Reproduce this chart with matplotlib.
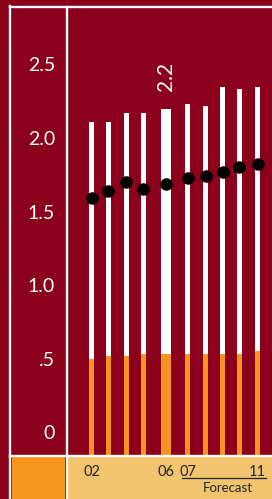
import matplotlib.pyplot as plt
from matplotlib.lines import Line2D
from matplotlib.patches import Rectangle

# data
years = ["02", "03", "04", "05", "06", "07", "08", "09", "10", "11"]
tick_labels = ["02", "", "", "", "06", "07", "", "", "", "11"]
total = [2.11, 2.11, 2.17, 2.17, 2.20, 2.23, 2.22, 2.35, 2.33, 2.35]
base = [0.50, 0.52, 0.52, 0.53, 0.53, 0.53, 0.53, 0.53, 0.53, 0.55]
dots = [1.59, 1.64, 1.70, 1.65, 1.69, 1.73, 1.74, 1.77, 1.80, 1.82]
highlight = 4
highlight_label = "2.2"

# layout
xpos = [0, 0.98, 2.02, 3.0, 4.3, 5.55, 6.6, 7.57, 8.55, 9.6]
widths = [0.58 if i == highlight else 0.29 for i in range(len(years))]

RED = "#8B001A"
ORANGE = "#F7941D"
LIGHT = "#F2C46D"
FONT = "Lato"

W, H = 272, 499
fig = plt.figure(figsize=(W / 100, H / 100), dpi=100, facecolor=RED)

def fx(px):
    return px / W

def fy(py):
    return 1 - py / H

ymin, ymax = -0.156, 2.884
ax = fig.add_axes([fx(67), fy(455), fx(W - 67), (455 - 8) / H], facecolor=RED)
ax.bar(xpos, [t - ymin for t in total], width=widths, bottom=ymin, color="white", zorder=2)
ax.bar(xpos, [b - ymin for b in base], width=widths, bottom=ymin, color=ORANGE, zorder=3)
ax.scatter(xpos, dots, s=64, color="black", zorder=4)
ax.text(xpos[highlight], 2.42, highlight_label, rotation=90, ha="center", va="center",
        color="white", fontsize=15, family=FONT)
ax.set_xlim(-1.416, 10.43)
ax.set_ylim(ymin, ymax)
ax.set_yticks([0, 0.5, 1.0, 1.5, 2.0, 2.5])
ax.set_yticklabels(["0", ".5", "1.0", "1.5", "2.0", "2.5"], color="white",
                   fontsize=14, family=FONT)
ax.tick_params(axis="y", length=0, pad=8.6)
ax.set_xticks([])
for s in ax.spines.values():
    s.set_visible(False)

# bottom strip
bx = fig.add_axes([fx(68), 0, fx(W - 68), (H - 457) / H], facecolor=LIGHT)
bx.set_xlim(-1.416 + 1 / 17.3, 10.43)
bx.set_ylim(0, 42)
for x, lab in zip(xpos, tick_labels):
    if lab:
        bx.text(x, 27, lab, ha="center", va="center", fontsize=10.5, family=FONT, color="#222222")
bx.plot([5.21, 10.07], [21, 21], color="#222222", lw=0.9)
bx.text(7.9, 11, "Forecast", ha="center", va="center", fontsize=9.5, family=FONT, color="#222222")
bx.axis("off")
bx.add_patch(Rectangle((0, 0), 1, 1, transform=bx.transAxes, color=LIGHT, zorder=0))

fig.add_artist(Rectangle((fx(12), 0), fx(53), (H - 457) / H, color=ORANGE, lw=0))

# white frame lines
lw = 1.7
fig.add_artist(Line2D([fx(10), fx(10)], [0, fy(6)], color="white", lw=lw))
fig.add_artist(Line2D([fx(10), 1], [fy(7), fy(7)], color="white", lw=lw))
fig.add_artist(Line2D([fx(66.5), fx(66.5)], [0, fy(7)], color="white", lw=lw))
fig.add_artist(Line2D([fx(10), 1], [fy(456), fy(456)], color="white", lw=lw))

fig.savefig("out.png", dpi=100, facecolor=RED)
